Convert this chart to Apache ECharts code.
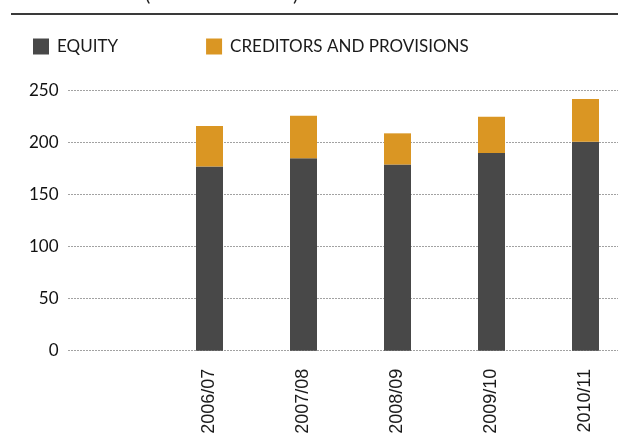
<!DOCTYPE html>
<html>
<head>
<meta charset="utf-8">
<script src="https://cdn.jsdelivr.net/npm/echarts@6/dist/echarts.min.js"></script>
<style>
html,body{margin:0;padding:0;background:#fff;}
#chart{width:618px;height:443px;}
</style>
</head>
<body>
<div id="chart"></div>
<script>
var categories = ['', '2006/07', '2007/08', '2008/09', '2009/10', '2010/11'];
var equity = [null, 177, 185, 179, 190, 201];
var creditors = [null, 39, 41, 30, 35, 41];
var seriesNames = ['EQUITY', 'CREDITORS AND PROVISIONS'];
var yTicks = [0, 50, 100, 150, 200, 250];

var chart = echarts.init(document.getElementById('chart'), null, {renderer: 'canvas'});
chart.setOption({
  animation: false,
  backgroundColor: '#ffffff',
  color: ['#484848', '#DA9623'],
  graphic: [
    {type: 'line', shape: {x1: 11, y1: 14, x2: 618, y2: 14}, style: {stroke: '#3a3a3a', lineWidth: 2}},
    {type: 'text', x: 145, y: 5, style: {text: '(', font: '20px Lato', fill: '#222', verticalAlign: 'bottom'}},
    {type: 'text', x: 293, y: 5, style: {text: ')', font: '20px Lato', fill: '#222', verticalAlign: 'bottom'}}
  ],
  legend: {
    left: 33,
    top: 38,
    padding: 0,
    itemWidth: 16,
    itemHeight: 16,
    itemGap: 88,
    icon: 'rect',
    textStyle: {fontFamily: 'Lato', fontSize: 17, color: '#1a1a1a', padding: [0, 0, 0, 3]},
    data: seriesNames
  },
  grid: {left: 68.5, width: 564, top: 90.7, height: 260, containLabel: false, outerBoundsMode: 'none'},
  xAxis: {
    type: 'category',
    data: categories,
    axisLine: {show: false},
    axisTick: {show: false},
    axisLabel: {rotate: 90, margin: 18, fontFamily: 'Liberation Sans', fontSize: 18, color: '#1a1a1a', interval: 0}
  },
  yAxis: {
    type: 'value',
    min: 0,
    max: 250,
    interval: 50,
    axisLine: {show: false},
    axisTick: {show: false},
    axisLabel: {margin: 10, fontFamily: 'Lato', fontSize: 17, color: '#111'},
    splitLine: {lineStyle: {type: [1, 2], color: '#444', width: 1}}
  },
  series: [
    {name: seriesNames[0], type: 'bar', stack: 'a', data: equity, barWidth: 27},
    {name: seriesNames[1], type: 'bar', stack: 'a', data: creditors, barWidth: 27}
  ]
});
</script>
</body>
</html>
